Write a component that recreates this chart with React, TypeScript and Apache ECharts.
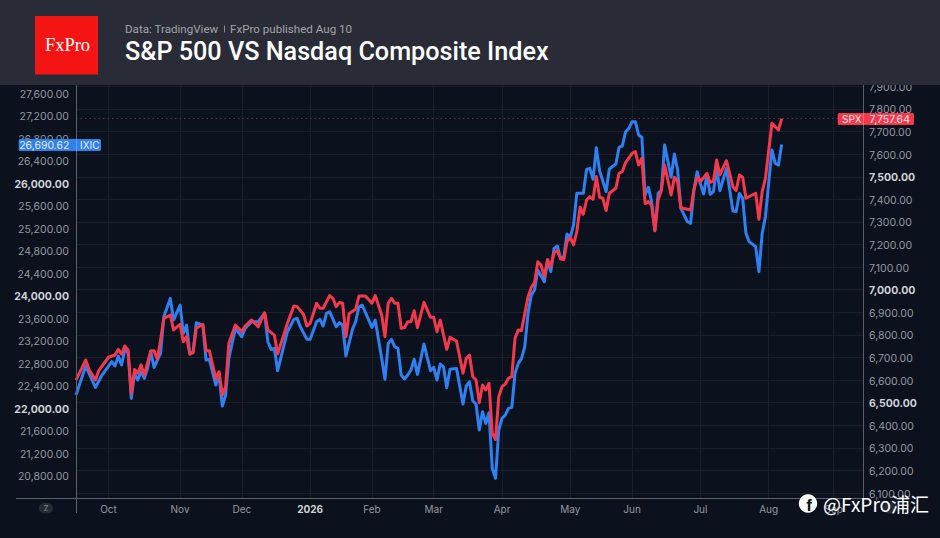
import React, { useEffect, useRef } from "react";
import * as echarts from "echarts";

const sessionCount = 243;
const monthLabels = ["Oct", "Nov", "Dec", "2026", "Feb", "Mar", "Apr", "May", "Jun", "Jul", "Aug", "Sep"];
const monthSessions = [10, 32, 51, 72, 91, 110, 131, 152, 171, 192, 213, 233];

const ixicSessions = [0,3,6,8,11,12,13,14,15,16,17,18,19,20,21,22,23,24,26,27,29,30,32,33,34,35,36,37,39,40,41,43,44,45,46,47,49,51,52,54,56,58,59,60,61,62,65,67,68,69,71,72,74,75,76,77,78,80,81,82,83,85,86,87,88,91,92,94,95,96,97,98,99,100,101,102,103,104,105,107,109,110,111,112,113,114,115,117,119,120,121,122,123,124,125,126,127,128,129,130,131,132,133,134,135,136,137,138,139,140,141,142,144,145,146,147,148,149,150,151,152,153,154,156,157,158,159,160,161,163,164,166,167,168,169,170,171,172,173,174,175,176,177,178,179,180,181,183,184,185,186,188,189,190,191,192,193,194,195,196,197,198,200,202,203,204,205,206,207,209,210,211,212,214,215,216,217];
const ixicValues = [22239,22754,22375,22594,22831,22754,22932,22772,23038,23009,22179,22624,22505,22653,22535,22712,23009,22730,22979,23630,23956,23571,23838,23334,23482,22967,23009,23524,23482,22860,22872,22416,22594,22043,22239,22890,23423,23275,23423,23542,23542,23690,23186,23050,23068,22671,23364,23583,23601,23450,23228,23228,23542,23583,23465,23690,23719,23453,23524,23482,22932,23405,23542,23808,23838,23441,23571,22890,22517,23157,23228,23097,23068,22594,22523,22594,22683,22872,22606,23145,22671,22730,22505,22789,22742,22369,22695,22712,22079,22399,22475,22138,22079,21617,21942,21735,21925,20936,20758,21617,21824,21883,22001,22019,22624,22801,22890,23097,23690,24015,24104,24460,24253,24626,24431,24845,24887,24668,24697,25100,25041,25260,25823,25823,26249,26267,26071,26634,26225,25852,26255,26344,26640,26664,26918,26977,27096,27096,26859,26818,25793,25929,25674,25159,25823,25882,26681,26107,26521,26237,25556,25319,25289,25882,26207,25990,25811,26148,25805,25852,26267,25870,26267,25509,25497,25823,25734,25112,24964,24875,24431,25112,25408,26593,26356,26326,26690.62];

const spxSessions = [0,3,4,6,7,10,12,13,14,15,16,17,18,19,20,21,23,24,25,26,27,29,30,32,33,34,35,36,37,39,40,41,43,44,45,46,47,49,51,52,54,56,58,59,61,62,65,67,68,70,71,72,74,75,76,78,79,80,81,82,83,84,86,87,89,91,92,94,95,96,97,98,99,100,101,102,103,104,105,107,109,110,111,112,114,115,117,119,120,121,122,123,124,125,126,127,128,129,130,131,132,133,134,135,136,137,139,140,141,142,143,144,145,146,147,148,149,150,151,152,153,154,155,156,157,158,159,160,161,162,163,164,166,167,168,169,171,172,173,174,175,176,177,178,179,180,181,183,184,185,186,189,190,191,192,194,195,196,197,198,200,202,203,204,205,206,209,210,211,212,214,216,217];
const spxValues = [6600,6689,6647,6600,6642,6701,6711,6736,6715,6751,6733,6541,6647,6630,6667,6622,6730,6730,6692,6777,6873,6888,6822,6847,6770,6792,6715,6721,6829,6847,6730,6730,6608,6637,6534,6571,6763,6844,6814,6839,6866,6836,6898,6822,6799,6715,6851,6928,6925,6890,6839,6851,6940,6918,6918,6974,6962,6925,6943,6940,6792,6895,6913,6972,6972,6940,6974,6888,6792,6940,6962,6940,6940,6829,6832,6858,6858,6907,6832,6944,6878,6878,6814,6866,6736,6789,6773,6630,6696,6711,6615,6600,6500,6578,6556,6585,6364,6337,6526,6571,6582,6608,6615,6785,6822,6819,6969,7010,7031,7124,7109,7058,7134,7102,7164,7173,7136,7134,7213,7232,7198,7257,7365,7334,7397,7412,7400,7501,7409,7405,7350,7427,7449,7515,7523,7563,7604,7611,7552,7582,7382,7390,7375,7261,7397,7439,7552,7419,7498,7478,7363,7353,7441,7498,7478,7515,7475,7481,7574,7508,7571,7456,7439,7508,7498,7405,7427,7312,7434,7493,7737,7707,7757.64];

const ixicLast = "26,690.62";
const spxLast = "7,757.64";
const spxLastValue = 7757.64;
const boldLeftTicks = [26000, 24000, 22000];
const boldRightTicks = [7500, 7000, 6500];
const hiddenLeftTicks = [20400, 27800];

const BG = "#0b121e";
const FONT = "Inter, Roboto, sans-serif";
const LABEL = "#95989e";
const BOLD = "#cfd1d4";
const GRID = "#1b1f27";
const AXIS = "#5d6066";
const BLUE = "#2f80f2";
const RED = "#f5394c";

const categories = Array.from({ length: sessionCount }, (_, i) => {
  const k = monthSessions.indexOf(i);
  return k >= 0 ? monthLabels[k] : "";
});
const pairs = (xs: number[], ys: number[]) => xs.map((x, i) => [x, ys[i]]);
const fmt = (v: number) => v.toLocaleString("en-US", { minimumFractionDigits: 2, maximumFractionDigits: 2 });

const txt = (text: string, x: number, y: number, fontSize: number, fill: string, extra: any = {}, z = 120) => ({
  type: "text", z, silent: true,
  style: { text, x, y, fontSize, fill, fontFamily: FONT, textVerticalAlign: "middle", ...extra },
});

export default function App() {
  const ref = useRef<HTMLDivElement>(null);
  useEffect(() => {
    const chart = echarts.init(ref.current!, undefined, { renderer: "svg" });
    const xBase = { type: "category", data: categories, boundaryGap: false };
    chart.setOption({
      animation: false,
      backgroundColor: BG,
      grid: [
        { left: 76, width: 787, top: 82.05, height: 416.45 },
        { left: 76, width: 787, top: 86.4, height: 406.6 },
      ],
      xAxis: [
        {
          ...xBase, gridIndex: 0,
          axisLine: { show: false }, axisTick: { show: false },
          axisLabel: {
            interval: (_: number, v: string) => v !== "",
            color: LABEL, fontFamily: FONT, fontSize: 10, margin: 5,
            formatter: (v: string) => (v === "2026" ? `{b|${v}}` : v),
            rich: { b: { color: BOLD, fontWeight: "bold", fontFamily: FONT, fontSize: 10 } },
          },
          splitLine: { show: true, interval: (_: number, v: string) => v !== "", lineStyle: { color: GRID, width: 1 } },
        },
        { ...xBase, gridIndex: 1, show: false },
      ],
      yAxis: [
        {
          type: "value", gridIndex: 0, position: "left", min: 20400, max: 27800, interval: 400,
          axisLine: { show: false }, axisTick: { show: false }, splitLine: { show: false },
          axisLabel: {
            color: LABEL, fontFamily: FONT, fontSize: 10.5, margin: 7, padding: [2, 0, 0, 0],
            formatter: (v: number) =>
              hiddenLeftTicks.includes(v) ? "" : boldLeftTicks.includes(v) ? `{b|${fmt(v)}}` : fmt(v),
            rich: { b: { color: BOLD, fontWeight: "bold", fontFamily: FONT, fontSize: 10.5 } },
          },
        },
        {
          type: "value", gridIndex: 1, position: "right", min: 6100, max: 7900, interval: 100,
          axisLine: { show: false }, axisTick: { show: false },
          splitLine: { show: true, lineStyle: { color: GRID, width: 1 } },
          axisLabel: {
            color: LABEL, fontFamily: FONT, fontSize: 10.5, margin: 6, padding: [2, 0, 0, 0],
            formatter: (v: number) => (boldRightTicks.includes(v) ? `{b|${fmt(v)}}` : fmt(v)),
            rich: { b: { color: BOLD, fontWeight: "bold", fontFamily: FONT, fontSize: 10.5 } },
          },
        },
      ],
      series: [
        {
          name: "IXIC", type: "line", xAxisIndex: 0, yAxisIndex: 0, showSymbol: false, z: 3,
          data: pairs(ixicSessions, ixicValues),
          lineStyle: { color: BLUE, width: 3, join: "round" },
        },
        {
          name: "SPX", type: "line", xAxisIndex: 1, yAxisIndex: 1, showSymbol: false, z: 4,
          data: pairs(spxSessions, spxValues),
          lineStyle: { color: RED, width: 3, join: "round" },
          markLine: {
            silent: true, symbol: "none", label: { show: false },
            lineStyle: { color: "#6f2b39", type: [1.5, 3], width: 1 },
            data: [{ yAxis: spxLastValue }],
          },
        },
      ],
      graphic: [
        // header
        { type: "rect", z: 100, silent: true, shape: { x: 0, y: 0, width: 940, height: 85 }, style: { fill: "#292c37" } },
        { type: "rect", z: 101, silent: true, shape: { x: 35, y: 16, width: 63, height: 58.5 }, style: { fill: "#f51414" } },
        txt("FxPro", 67.5, 45, 18.5, "#ffffff", { fontFamily: "Liberation Serif, serif", textAlign: "center" }),
        txt("Data: TradingView", 125, 29, 11.6, "#a0a3a9", { fontFamily: "Roboto, sans-serif" }),
        { type: "rect", z: 101, silent: true, shape: { x: 224, y: 25.5, width: 1, height: 7 }, style: { fill: "#8a8d93" } },
        txt("FxPro published Aug 10", 230, 29, 11.6, "#a0a3a9", { fontFamily: "Roboto, sans-serif" }),
        txt("S&P 500 VS Nasdaq Composite Index", 125, 51.5, 25.2, "#ffffff", { fontFamily: "Roboto, sans-serif", fontWeight: 500 }),
        // axis frame
        { type: "line", z: 50, silent: true, shape: { x1: 76.5, y1: 85, x2: 76.5, y2: 513 }, style: { stroke: AXIS, lineWidth: 1 } },
        { type: "line", z: 50, silent: true, shape: { x1: 863.5, y1: 85, x2: 863.5, y2: 513 }, style: { stroke: AXIS, lineWidth: 1 } },
        { type: "line", z: 50, silent: true, shape: { x1: 16, y1: 498.5, x2: 863, y2: 498.5 }, style: { stroke: AXIS, lineWidth: 1 } },
        // last-value tags
        { type: "rect", z: 60, silent: true, shape: { x: 18.7, y: 139, width: 82.3, height: 12, r: 1.5 }, style: { fill: "#2f7fee" } },
        { type: "rect", z: 61, silent: true, shape: { x: 76, y: 139, width: 1, height: 12 }, style: { fill: "rgba(255,255,255,0.25)" } },
        txt(ixicLast, 69.5, 145.3, 10.5, "#e8f0fd", { textAlign: "right" }, 62),
        txt("IXIC", 80, 145.3, 10, "#e8f0fd", {}, 62),
        { type: "rect", z: 60, silent: true, shape: { x: 837.7, y: 113, width: 76.3, height: 12, r: 1.5 }, style: { fill: RED } },
        { type: "rect", z: 61, silent: true, shape: { x: 863, y: 113, width: 1, height: 12 }, style: { fill: "rgba(255,255,255,0.25)" } },
        txt("SPX", 842, 119.3, 10, "#fde8ea", {}, 62),
        txt(spxLast, 869.5, 119.3, 10.5, "#fde8ea", {}, 62),
        // axis buttons
        { type: "rect", z: 60, silent: true, shape: { x: 39, y: 503, width: 14, height: 10.5, r: 5 }, style: { fill: "#262a33" } },
        txt("Z", 46, 508.5, 7.5, "#8c8f95", { textAlign: "center" }, 62),
        { type: "rect", z: 60, silent: true, shape: { x: 883, y: 503, width: 14, height: 10.5, r: 5 }, style: { fill: "#262a33" } },
        // watermark
        { type: "circle", z: 130, silent: true, shape: { cx: 808, cy: 503.5, r: 9.2 }, style: { fill: "#ffffff" } },
        txt("f", 809, 505.5, 17, BG, { fontFamily: "Liberation Sans, sans-serif", fontWeight: "bold", textAlign: "center" }, 131),
        txt("@FxPro浦汇", 823, 503.5, 19, "#ffffff", { fontFamily: "Noto Sans CJK SC, sans-serif" }, 131),
      ],
    });
    return () => chart.dispose();
  }, []);
  return <div ref={ref} style={{ position: "fixed", left: 0, top: 0, width: 940, height: 538, background: BG }} />;
}
